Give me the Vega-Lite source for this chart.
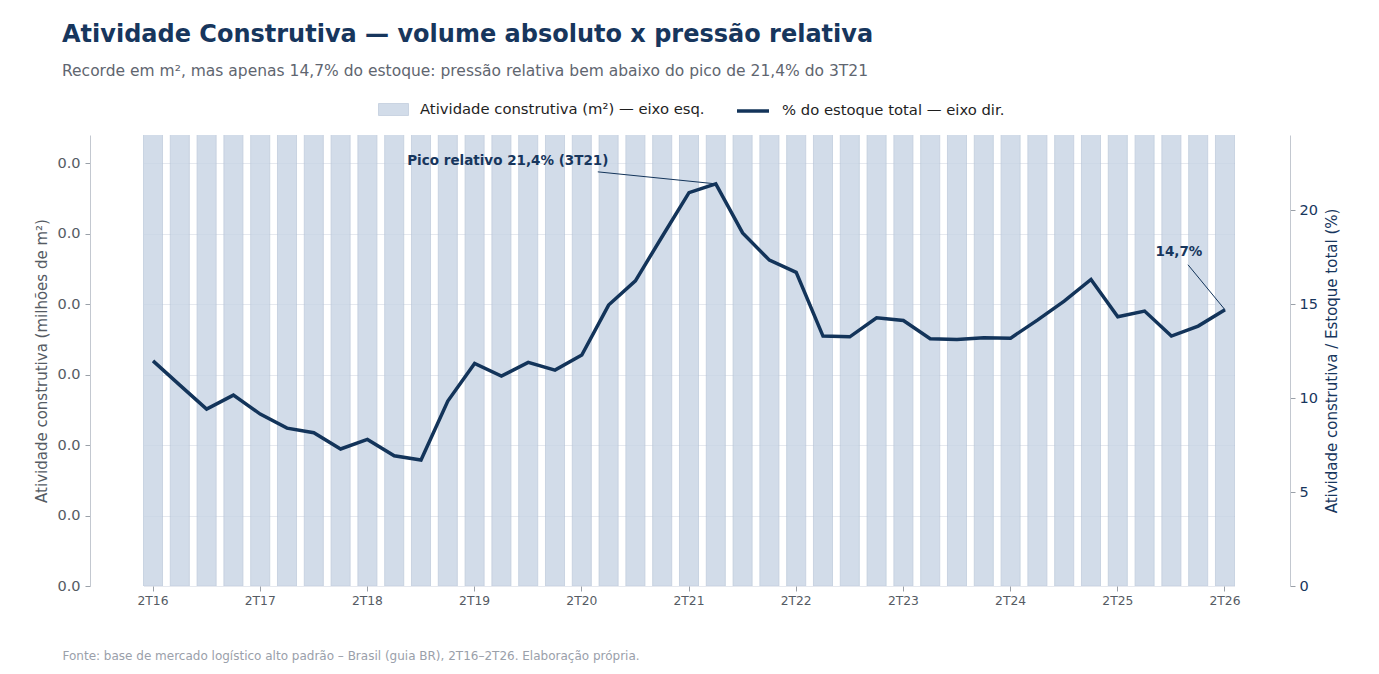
{
  "$schema": "https://vega.github.io/schema/vega-lite/v6.json",
  "width": 1200,
  "height": 451,
  "autosize": {"type": "none"},
  "padding": {"left": 90, "top": 135, "right": 89, "bottom": 88},
  "config": {
    "font": "DejaVu Sans",
    "view": {"stroke": null},
    "axis": {
      "domainColor": "#c3c8d0",
      "tickColor": "#9aa0a8",
      "tickSize": 5,
      "labelColor": "#555b63",
      "titleColor": "#555b63",
      "titleFontWeight": "normal"
    },
    "legend": {"padding": 0, "labelFontSize": 14.8, "labelColor": "#1e1e1e", "labelOffset": 11, "labelLimit": 400}
  },
  "title": {
    "text": "Atividade Construtiva — volume absoluto x pressão relativa",
    "subtitle": "Recorde em m², mas apenas 14,7% do estoque: pressão relativa bem abaixo do pico de 21,4% do 3T21",
    "anchor": "start",
    "frame": "group",
    "dx": -28,
    "offset": 14,
    "fontSize": 24,
    "fontWeight": "bold",
    "color": "#17365d",
    "subtitleFontSize": 15.5,
    "subtitleColor": "#5f6670",
    "subtitlePadding": 17
  },
  "data": {
    "values": [
      {"trimestre": "2T16", "atividade": 1.35, "pct": 11.98},
      {"trimestre": "3T16", "atividade": 1.25, "pct": 10.69},
      {"trimestre": "4T16", "atividade": 1.12, "pct": 9.41},
      {"trimestre": "1T17", "atividade": 1.22, "pct": 10.16},
      {"trimestre": "2T17", "atividade": 1.12, "pct": 9.15},
      {"trimestre": "3T17", "atividade": 1.05, "pct": 8.4},
      {"trimestre": "4T17", "atividade": 1.04, "pct": 8.16},
      {"trimestre": "1T18", "atividade": 0.96, "pct": 7.29},
      {"trimestre": "2T18", "atividade": 1.05, "pct": 7.8},
      {"trimestre": "3T18", "atividade": 0.96, "pct": 6.93},
      {"trimestre": "4T18", "atividade": 0.95, "pct": 6.7},
      {"trimestre": "1T19", "atividade": 1.42, "pct": 9.84},
      {"trimestre": "2T19", "atividade": 1.78, "pct": 11.84},
      {"trimestre": "3T19", "atividade": 1.74, "pct": 11.17},
      {"trimestre": "4T19", "atividade": 1.92, "pct": 11.9},
      {"trimestre": "1T20", "atividade": 1.93, "pct": 11.49},
      {"trimestre": "2T20", "atividade": 2.12, "pct": 12.29},
      {"trimestre": "3T20", "atividade": 2.68, "pct": 14.95},
      {"trimestre": "4T20", "atividade": 3.05, "pct": 16.24},
      {"trimestre": "1T21", "atividade": 3.62, "pct": 18.6},
      {"trimestre": "2T21", "atividade": 4.26, "pct": 20.93},
      {"trimestre": "3T21", "atividade": 4.5, "pct": 21.4},
      {"trimestre": "4T21", "atividade": 4.1, "pct": 18.79},
      {"trimestre": "1T22", "atividade": 3.9, "pct": 17.34},
      {"trimestre": "2T22", "atividade": 3.88, "pct": 16.69},
      {"trimestre": "3T22", "atividade": 3.2, "pct": 13.3},
      {"trimestre": "4T22", "atividade": 3.25, "pct": 13.26},
      {"trimestre": "1T23", "atividade": 3.6, "pct": 14.27},
      {"trimestre": "2T23", "atividade": 3.65, "pct": 14.13},
      {"trimestre": "3T23", "atividade": 3.48, "pct": 13.16},
      {"trimestre": "4T23", "atividade": 3.5, "pct": 13.12},
      {"trimestre": "1T24", "atividade": 3.6, "pct": 13.21},
      {"trimestre": "2T24", "atividade": 3.65, "pct": 13.19},
      {"trimestre": "3T24", "atividade": 4.0, "pct": 14.15},
      {"trimestre": "4T24", "atividade": 4.35, "pct": 15.16},
      {"trimestre": "1T25", "atividade": 4.75, "pct": 16.31},
      {"trimestre": "2T25", "atividade": 4.3, "pct": 14.33},
      {"trimestre": "3T25", "atividade": 4.45, "pct": 14.63},
      {"trimestre": "4T25", "atividade": 4.1, "pct": 13.3},
      {"trimestre": "1T26", "atividade": 4.32, "pct": 13.83},
      {"trimestre": "2T26", "atividade": 4.85, "pct": 14.7}
    ]
  },
  "encoding": {
    "x": {
      "field": "trimestre",
      "type": "ordinal",
      "sort": null,
      "scale": {"paddingInner": 0.29, "paddingOuter": 0, "range": [53.5, 1144.5]},
      "axis": {
        "values": ["2T16", "2T17", "2T18", "2T19", "2T20", "2T21", "2T22", "2T23", "2T24", "2T25", "2T26"],
        "domain": false,
        "labelAngle": 0,
        "labelFontSize": 12.3,
        "labelPadding": 3,
        "title": "Fonte: base de mercado logístico alto padrão – Brasil (guia BR), 2T16–2T26. Elaboração própria.",
        "titleAnchor": "start",
        "titleAlign": "left",
        "titleX": -28,
        "titleY": 69,
        "titleBaseline": "middle",
        "titleFontSize": 12,
        "titleColor": "#9aa0aa"
      }
    }
  },
  "layer": [
    {
      "mark": {"type": "bar", "clip": true, "opacity": 0.8, "stroke": "#b3c2d6", "strokeWidth": 0.8},
      "encoding": {
        "y": {
          "field": "atividade",
          "type": "quantitative",
          "scale": {"domain": [0, 0.032]},
          "axis": {
            "orient": "left",
            "values": [0, 0.005, 0.01, 0.015, 0.02, 0.025, 0.03],
            "format": ".1f",
            "grid": true,
            "gridColor": "#e6e9ef",
            "labelFontSize": 14.5,
            "labelPadding": 5,
            "title": "Atividade construtiva (milhões de m²)",
            "titleFontSize": 15,
            "titlePadding": 7
          }
        },
        "fill": {
          "datum": "Atividade construtiva (m²) — eixo esq.",
          "scale": {"range": ["#c8d4e4"]},
          "legend": {
            "title": null,
            "orient": "none",
            "legendX": 288,
            "legendY": -41,
            "symbolType": "M-1,-0.4H1V0.4H-1Z",
            "symbolSize": 900,
            "symbolOpacity": 0.8,
            "symbolStrokeColor": "#b3c2d6",
            "symbolStrokeWidth": 0.8
          }
        }
      }
    },
    {
      "encoding": {
        "y": {
          "field": "pct",
          "type": "quantitative",
          "scale": {"domain": [0, 24]},
          "axis": {
            "orient": "right",
            "values": [0, 5, 10, 15, 20],
            "grid": false,
            "labelFontSize": 14.5,
            "labelPadding": 4,
            "labelColor": "#17365d",
            "title": "Atividade construtiva / Estoque total (%)",
            "titleAngle": 270,
            "titleX": 41,
            "titleY": 225.5,
            "titleAlign": "center",
            "titleBaseline": "middle",
            "titleColor": "#17365d",
            "titleFontSize": 15
          }
        }
      },
      "layer": [
        {
          "mark": {"type": "rule", "color": "#c3c8d0", "strokeWidth": 1},
          "encoding": {"y": {"datum": 0}}
        },
        {
          "mark": {"type": "line", "strokeWidth": 3.5},
          "encoding": {
            "stroke": {
              "datum": "% do estoque total — eixo dir.",
              "scale": {"range": ["#13345a"]},
              "legend": {
                "title": null,
                "orient": "none",
                "legendX": 645,
                "legendY": -42,
                "symbolType": "M-1,0H1",
                "symbolSize": 1024,
                "symbolStrokeWidth": 3.5
              }
            }
          }
        },
        {
          "transform": [{"filter": "datum.trimestre == '3T21'"}],
          "mark": {"type": "rule", "color": "#13345a", "strokeWidth": 1, "x2Offset": -118, "y2Offset": -12},
          "encoding": {"x2": {"field": "trimestre"}, "y2": {"field": "pct"}}
        },
        {
          "transform": [{"filter": "datum.trimestre == '3T21'"}],
          "mark": {"type": "text", "text": "Pico relativo 21,4% (3T21)", "fontSize": 13.5, "fontWeight": "bold", "color": "#17365d", "align": "center", "baseline": "middle", "dx": -208, "dy": -23},
          "encoding": {}
        },
        {
          "transform": [{"filter": "datum.trimestre == '2T26'"}],
          "mark": {"type": "rule", "color": "#13345a", "strokeWidth": 1, "x2Offset": -37, "y2Offset": -45},
          "encoding": {"x2": {"field": "trimestre"}, "y2": {"field": "pct"}}
        },
        {
          "transform": [{"filter": "datum.trimestre == '2T26'"}],
          "mark": {"type": "text", "text": "14,7%", "fontSize": 13.5, "fontWeight": "bold", "color": "#17365d", "align": "center", "baseline": "middle", "dx": -46, "dy": -58},
          "encoding": {}
        }
      ]
    }
  ],
  "resolve": {"scale": {"y": "independent"}}
}
